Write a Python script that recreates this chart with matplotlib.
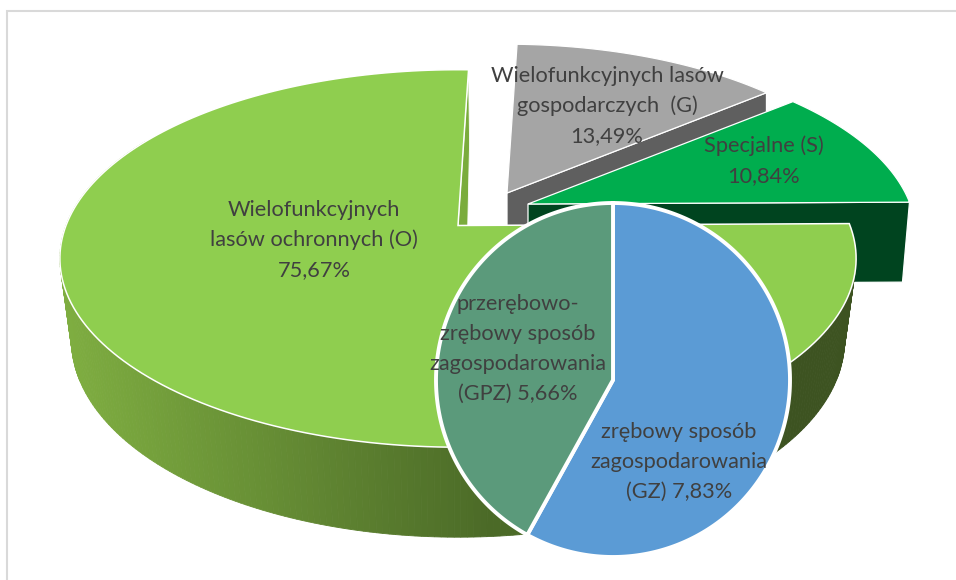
import numpy as np
import matplotlib
matplotlib.use("Agg")
import matplotlib.pyplot as plt
from matplotlib.patches import Polygon
from matplotlib.colors import to_rgb

plt.rcParams['font.family'] = ['Lato', 'DejaVu Sans']

main_labels = ["Specjalne (S)\n10,84%",
               "Wielofunkcyjnych lasów\ngospodarczych  (G)\n13,49%",
               "Wielofunkcyjnych\nlasów ochronnych (O)\n75,67%"]
main_values = [10.84, 13.49, 75.67]
inset_labels = ["zrębowy sposób\nzagospodarowania\n(GZ) 7,83%",
                "przerębowo-\nzrębowy sposób\nzagospodarowania\n(GPZ) 5,66%"]
inset_values = [7.83, 5.66]

W, H = 956, 580
fig = plt.figure(figsize=(W / 100, H / 100), dpi=100)
ax = fig.add_axes([0, 0, 1, 1])
ax.set_xlim(0, W)
ax.set_ylim(H, 0)
ax.axis("off")

A, B, K = 392.0, 183.0, 0.1746


def top_xy(theta, apex, s=1.0):
    t = np.radians(theta)
    d = 1 + K * np.sin(t)
    return apex[0] + s * A * np.cos(t) / d, apex[1] - s * B * np.sin(t) / d


def bottom_xy(x, y, apex):
    Y = y - apex[1]
    return apex[0] + (x - apex[0]) * 0.971, y + 80 + 0.045 * Y


def arc(t0, t1, apex, s=1.0, n=200):
    th = np.linspace(t0, t1, n)
    x, y = top_xy(th, apex, s)
    return np.column_stack([x, y])


def fill(pts, color, z, ec="white", lw=0.9):
    ax.add_patch(Polygon(pts, closed=True, fc=color, ec=ec, lw=lw, zorder=z, joinstyle="miter"))


# cumulative angles of the main pie
start = 0.6
edges = start + np.concatenate([[0], np.cumsum(main_values)]) * 3.6
t_s = edges[0], edges[1]
t_g = edges[1], edges[2]
t_o = edges[2], edges[3]

apex_o = (458.0, 225.5)
apex_g = (507.0, 193.0)
apex_s = (528.0, 204.0)
s_g, s_s = 0.955, 0.975

# grey slice
gx, gy = top_xy(t_g[0], apex_g, s_g)
fill([apex_g, (gx, gy), (gx, gy + 70), (apex_g[0], apex_g[1] + 80)], "#5f5f5f", 1)
fill(np.vstack([[apex_g], arc(t_g[0], t_g[1], apex_g, s_g)]), "#a5a5a5", 2)

# special slice
sx, sy = top_xy(t_s[0], apex_s, s_s)
fill([apex_s, (sx, sy), (sx - 7, sy + 80), (apex_s[0], apex_s[1] + 80)], "#00441f", 3)
fill(np.vstack([[apex_s], arc(t_s[0], t_s[1], apex_s, s_s)]), "#00ad4e", 4)

# big slice: extruded side, strips coloured by horizontal position
c_left = np.array(to_rgb("#7fae41"))
c_mid = np.array(to_rgb("#4b6a27"))
c_right = np.array(to_rgb("#3d5321"))
ths = np.linspace(150, t_o[1], 260)
for a, b in zip(ths[:-1], ths[1:]):
    x0, y0 = top_xy(a, apex_o)
    x1, y1 = top_xy(b, apex_o)
    x2, y2 = bottom_xy(x1, y1, apex_o)
    x3, y3 = bottom_xy(x0, y0, apex_o)
    f = np.clip((x0 - 60) / (490 - 60), 0, 1)
    col = c_left + (c_mid - c_left) * f
    if x0 > 620:
        col = c_right
    ax.add_patch(Polygon([(x0, y0), (x1, y1), (x2, y2), (x3, y3)], closed=True,
                         fc=col, ec=col, lw=0.6, zorder=5))

# notch side of the big slice
ox, oy = top_xy(t_o[0], apex_o)
bx, by = bottom_xy(ox, oy, apex_o)
ab = bottom_xy(apex_o[0], apex_o[1], apex_o)
fill([apex_o, (ox, oy), (ox + 1, by), (ab[0] + 8, ab[1])], "#7aac3c", 5, lw=0.6)

# top of the big slice
fill(np.vstack([[apex_o], arc(t_o[0], t_o[1], apex_o)]), "#8fce4f", 6, lw=1.1)

# inset pie
cx, cy, r = 613.0, 380.0, 177.0
inset_colors = ["#5b9bd5", "#5b9a7b"]
frac = np.concatenate([[0], np.cumsum(inset_values)]) / np.sum(inset_values) * 360
for i, c in enumerate(inset_colors):
    th = np.radians(np.linspace(frac[i], frac[i + 1], 240))
    pts = np.column_stack([cx + r * np.sin(th), cy - r * np.cos(th)])
    fill(np.vstack([[(cx, cy)], pts]), c, 7, lw=2.8)

# frame
ax.plot([7, 7, W], [H, 11, 11], color="#d9d9d9", lw=1.5, zorder=0, solid_joinstyle="miter")

# labels
tkw = dict(ha="center", va="center", color="#404040", fontsize=15.7, linespacing=1.62, zorder=10)
ax.text(764, 161, main_labels[0], **tkw)
ax.text(607, 106, main_labels[1], **tkw)
ax.text(314, 240, main_labels[2], **tkw)
ax.text(679, 462, inset_labels[0], **tkw)
ax.text(518, 349, inset_labels[1], **tkw)

fig.savefig("out.png", dpi=100)
